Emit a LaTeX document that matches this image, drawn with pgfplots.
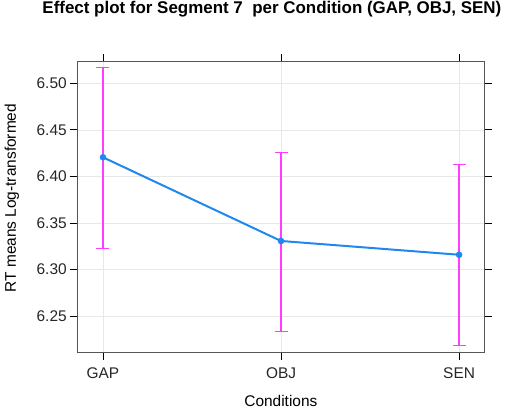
\documentclass[border=0pt]{standalone}
\usepackage{pgfplots}
\pgfplotsset{compat=1.18}
\usepackage{fontspec}
\setmainfont{Liberation Sans}
\definecolor{ptblue}{HTML}{1E88F0}
\definecolor{ebmag}{HTML}{FF3CFF}
\definecolor{gridc}{HTML}{E8E8E8}
\definecolor{boxc}{HTML}{555555}
\begin{document}
\begin{tikzpicture}[x=1bp,y=1bp]
\path[use as bounding box] (0,0) rectangle (511,-408);
\begin{axis}[
  at={(77.7bp,-352bp)}, anchor=south west,
  scale only axis, width=406.3bp, height=290.3bp,
  xmin=-0.142, xmax=2.14, ymin=6.2113, ymax=6.5232,
  xtick={0,1,2}, xticklabels={GAP,OBJ,SEN},
  ytick={6.25,6.30,6.35,6.40,6.45,6.50},
  yticklabel style={/pgf/number format/.cd,fixed,fixed zerofill,precision=2},
  /pgf/number format/assume math mode=true,
  tick align=outside, major tick length=7.5bp,
  tick style={black, line width=0.8pt},
  axis line style={boxc, line width=0.8pt},
  grid=major, major grid style={gridc, line width=0.6pt},
  ticklabel style={font=\fontsize{15.5}{18}\selectfont, text=black!85},
  xticklabel style={yshift=-5bp},
  title={\bfseries Effect plot for Segment 7\ \ per Condition (GAP, OBJ, SEN)},
  title style={font=\fontsize{17}{20}\selectfont, at={(axis description cs:0.478,1.161)}, anchor=center},
  xlabel={Conditions},
  xlabel style={font=\fontsize{15.5}{18}\selectfont, at={(axis description cs:0.5,-0.168)}, anchor=center},
  ylabel={RT means Log-transformed},
  ylabel style={font=\fontsize{15.5}{18}\selectfont, at={(axis description cs:-0.1617,0.53)}, anchor=center, rotate=0},
  ebar/.style={ebmag, line width=1.5pt, mark=-, mark size=6.5bp, mark options={solid, ebmag, line width=1.5pt}},
]
\addplot[ebar] coordinates {(0,6.3227) (0,6.5168)};
\addplot[ebar] coordinates {(1,6.2331) (1,6.4259)};
\addplot[ebar] coordinates {(2,6.2181) (2,6.4125)};
\addplot[ptblue, line width=2pt, mark=*, mark size=3bp, mark options={fill=ptblue, draw=ptblue, line width=0.5pt}]
  table[x=x, y=y] {
x y
0 6.4205
1 6.3306
2 6.3158
};
\end{axis}
\end{tikzpicture}
\end{document}
